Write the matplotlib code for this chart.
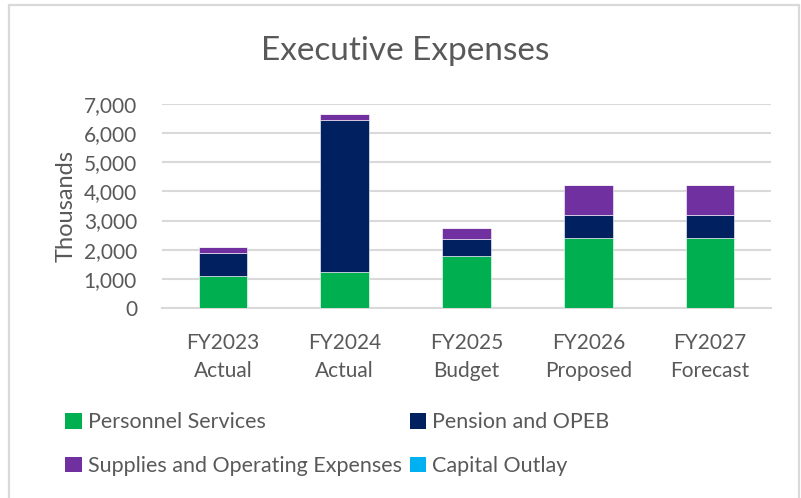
import numpy as np
import matplotlib
matplotlib.use('Agg')
import matplotlib.pyplot as plt
from matplotlib.patches import Rectangle, Patch

# Data (thousands)
categories = ['FY2023\nActual', 'FY2024\nActual', 'FY2025\nBudget', 'FY2026\nProposed', 'FY2027\nForecast']
personnel = [1085, 1235, 1795, 2400, 2400]
pension = [800, 5200, 560, 775, 775]
supplies = [205, 230, 380, 1045, 1045]
capital = [0, 0, 0, 0, 0]

series_names = ['Personnel Services', 'Pension and OPEB',
                'Supplies and Operating Expenses', 'Capital Outlay']
colors = ['#00B050', '#002060', '#7030A0', '#00B0F0']
text_color = '#595959'
grid_color = '#D9D9D9'

plt.rcParams['font.family'] = ['Lato', 'DejaVu Sans']

W, H = 801, 498
fig = plt.figure(figsize=(W / 100, H / 100), dpi=100)

# chart border
fig.patches.append(Rectangle((9 / W, -0.05), (799 - 9) / W, (498 - 5 + 25) / H,
                             transform=fig.transFigure, fill=False,
                             edgecolor=grid_color, linewidth=1.6))

ax = fig.add_axes([162 / W, (H - 308) / H, (771 - 162) / W, 204 / H])

x = np.arange(len(categories))
bottom = np.zeros(len(categories))
handles = []
for vals, c, name in zip([personnel, pension, supplies, capital], colors, series_names):
    vals = np.array(vals, dtype=float)
    ax.bar(x, vals, width=0.4, bottom=bottom, color=c, edgecolor='white',
           linewidth=0.4, zorder=3)
    handles.append(Patch(facecolor=c, edgecolor='none', label=name))
    bottom += vals

ax.set_xlim(-0.5, len(categories) - 0.5)
ax.set_ylim(0, 7000)
ax.set_yticks(np.arange(0, 7001, 1000))
ax.set_yticklabels([f'{v:,}' for v in range(0, 7001, 1000)])
ax.set_xticks(x)
ax.set_xticklabels(categories, linespacing=1.5)
ax.yaxis.grid(True, color=grid_color, linewidth=1.5, zorder=0)
for s in ['top', 'right', 'left']:
    ax.spines[s].set_visible(False)
ax.spines['bottom'].set_color(grid_color)
ax.spines['bottom'].set_linewidth(1.5)
ax.tick_params(axis='both', length=0, labelsize=15, colors=text_color)
ax.tick_params(axis='y', pad=18)
ax.tick_params(axis='x', pad=18)

ax.set_ylabel('Thousands', fontsize=17, color=text_color, labelpad=5)

fig.text(405 / W, 1 - 51 / H, 'Executive Expenses', ha='center', va='center',
         fontsize=24, color=text_color)

order = [0, 2, 1, 3]
fig.legend([handles[i] for i in order], [series_names[i] for i in order],
           ncol=2, loc='upper left', bbox_to_anchor=(46 / W, 1 - 393 / H),
           frameon=False, fontsize=15.5, labelcolor=text_color,
           handlelength=0.75, handleheight=0.75, handletextpad=0.3,
           columnspacing=0.35, labelspacing=1.1)

fig.savefig('out.png', dpi=100)
